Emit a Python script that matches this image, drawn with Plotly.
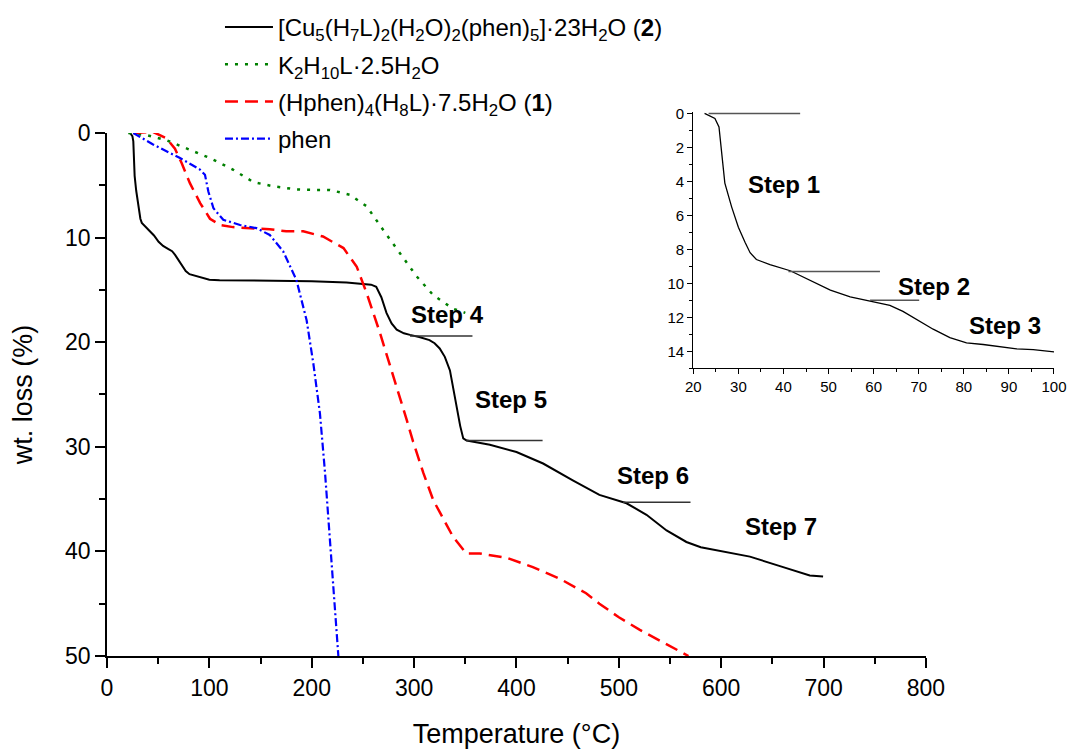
import plotly.graph_objects as go

# ---- TGA data (temperature in °C, weight loss in %) ----
# Compound 2: [Cu5(H7L)2(H2O)2(phen)5]·23H2O
temp_cu = [22.5, 24.8, 25.7, 26.3, 27.0, 28.5, 30.0, 31.5, 32.6, 34.0, 37.0, 41.5,
           45.9, 50.4, 54.8, 59.2, 63.6, 66.5, 69.5, 73.2, 76.9, 80.6, 84.3, 88.0,
           91.7, 95.4, 100.0, 110, 130, 160, 200, 234, 250, 258, 263, 268, 273, 278,
           283, 290, 296, 305, 315, 320, 325, 330, 335, 338, 341.5, 345, 348, 351.3,
           362, 374, 400, 426, 455, 481, 507.5, 515, 527, 546.6, 566, 580, 595, 628,
           660.5, 686.5, 699.5]
loss_cu = [0.0, 0.3, 0.8, 2.5, 4.1, 5.5, 6.7, 7.6, 8.2, 8.6, 8.9, 9.26,
           9.8, 10.4, 10.8, 11.05, 11.3, 11.65, 12.1, 12.7, 13.2, 13.5, 13.6, 13.75,
           13.86, 13.9, 14.03, 14.07, 14.1, 14.12, 14.17, 14.3, 14.4, 14.5, 14.7, 15.7, 17.2, 18.2,
           18.8, 19.15, 19.3, 19.5, 19.8, 20.1, 20.6, 21.4, 22.7, 24.3, 26.2, 28.0, 29.2, 29.4,
           29.6, 29.8, 30.5, 31.6, 33.2, 34.6, 35.4, 35.8, 36.5, 38.0, 39.1, 39.6, 39.9, 40.5,
           41.5, 42.3, 42.4]

# K2H10L·2.5H2O
temp_k = [20.8, 38.8, 58.3, 77.7, 100.6, 123, 143, 162.5, 185, 205, 217.8, 237, 253.6,
          270, 286, 302.4, 318.7, 338, 350]
loss_k = [0.0, 0.2, 0.7, 1.5, 2.4, 3.5, 4.7, 5.1, 5.4, 5.45, 5.45, 5.9, 7.0,
          9.3, 11.5, 13.7, 15.5, 16.8, 17.2]

# Compound 1: (Hphen)4(H8L)·7.5H2O
temp_hp = [25.7, 45, 58, 66.4, 73, 81, 91, 100.6, 110.4, 123, 140, 159, 175, 191.7,
           211, 231, 244, 253.6, 266.6, 280, 292.7, 299, 309, 318.7, 338, 351, 364,
           390, 416, 442, 468, 481, 500, 520.5, 545, 568]
loss_hp = [0.0, -0.1, 0.5, 1.5, 2.9, 4.8, 6.7, 8.2, 8.8, 9.0, 9.1, 9.2, 9.4, 9.4,
           9.9, 11.0, 12.8, 15.3, 19.1, 23.3, 27.4, 29.5, 32.5, 35.1, 38.6, 40.2, 40.2,
           40.6, 41.5, 42.6, 44.0, 45.0, 46.3, 47.5, 48.8, 50.0]

# phen
temp_ph = [25.7, 45, 71.3, 90.8, 95.7, 99, 104, 113.6, 130, 146, 159, 172, 185,
           195, 201.5, 208, 213, 219.4, 226]
loss_ph = [0.0, 1.1, 2.4, 3.5, 4.0, 5.6, 7.2, 8.3, 8.8, 9.1, 9.75, 11.3, 14.05,
           17.9, 22.0, 26.8, 32.5, 40.8, 50.0]

# Step marker lines (start T, end T, loss level) for the main plot and the inset
step_main_x0 = [296, 351, 504]
step_main_x1 = [357, 425.5, 570]
step_main_y = [19.4, 29.4, 35.3]
step_ins_x0 = [23.4, 41.1, 59.2]
step_ins_x1 = [43.7, 61.4, 70.1]
step_ins_y = [0.0, 9.3, 11.0]

# Step labels
step_main_labels = ["Step 4", "Step 5", "Step 6", "Step 7"]
step_main_lx = [332.5, 394.5, 533.2, 658.2]
step_main_ly = [17.4, 25.5, 32.7, 37.6]
step_ins_labels = ["Step 1", "Step 2", "Step 3"]
step_ins_lx = [40.2, 73.3, 89.1]
step_ins_ly = [4.2, 10.2, 12.5]

names = [
    "[Cu<sub>5</sub>(H<sub>7</sub>L)<sub>2</sub>(H<sub>2</sub>O)<sub>2</sub>(phen)<sub>5</sub>]·23H<sub>2</sub>O (<b>2</b>)",
    "K<sub>2</sub>H<sub>10</sub>L·2.5H<sub>2</sub>O",
    "(Hphen)<sub>4</sub>(H<sub>8</sub>L)·7.5H<sub>2</sub>O (<b>1</b>)",
    "phen",
]

FONT = "Arial, 'Liberation Sans', sans-serif"

fig = go.Figure()

fig.add_trace(go.Scatter(x=temp_cu, y=loss_cu, mode="lines", name=names[0],
                         legendgroup="a",
                         line=dict(color="black", width=2)))
fig.add_trace(go.Scatter(x=temp_k, y=loss_k, mode="lines", name=names[1],
                         legendgroup="b",
                         line=dict(color="#008000", width=2.5, dash="3px,7px")))
fig.add_trace(go.Scatter(x=temp_hp, y=loss_hp, mode="lines", name=names[2],
                         legendgroup="c",
                         line=dict(color="#FF0000", width=2.5, dash="13px,7px")))
fig.add_trace(go.Scatter(x=temp_ph, y=loss_ph, mode="lines", name=names[3],
                         legendgroup="d",
                         line=dict(color="#0000FF", width=2.2, dash="8px,3px,2px,3px")))

# Step marker lines, main plot
for x0, x1, yv in zip(step_main_x0, step_main_x1, step_main_y):
    fig.add_trace(go.Scatter(x=[x0, x1], y=[yv, yv], mode="lines", showlegend=False,
                             line=dict(color="#333333", width=1.5), hoverinfo="skip"))

# Inset: compound 2 at low temperature
fig.add_trace(go.Scatter(x=temp_cu, y=loss_cu, mode="lines", showlegend=False,
                         xaxis="x2", yaxis="y2",
                         line=dict(color="black", width=1.3)))
for x0, x1, yv in zip(step_ins_x0, step_ins_x1, step_ins_y):
    fig.add_trace(go.Scatter(x=[x0, x1], y=[yv, yv], mode="lines", showlegend=False,
                             xaxis="x2", yaxis="y2",
                             line=dict(color="#555555", width=1.5), hoverinfo="skip"))

annotations = []
for t, lx, ly in zip(step_main_labels, step_main_lx, step_main_ly):
    annotations.append(dict(x=lx, y=ly, xref="x", yref="y", text=f"<b>{t}</b>",
                            showarrow=False, font=dict(size=24, color="black", family=FONT)))
for t, lx, ly in zip(step_ins_labels, step_ins_lx, step_ins_ly):
    annotations.append(dict(x=lx, y=ly, xref="x2", yref="y2", text=f"<b>{t}</b>",
                            showarrow=False, font=dict(size=24, color="black", family=FONT)))

axis_common = dict(showline=True, linecolor="black", showgrid=False, zeroline=False,
                   ticks="outside", tickcolor="black", mirror=False, automargin=False)

fig.update_layout(
    width=1067, height=749,
    margin=dict(l=107, r=13, t=0, b=93),
    paper_bgcolor="white", plot_bgcolor="rgba(0,0,0,0)",
    font=dict(family=FONT, color="black"),
    xaxis=dict(domain=[0, 0.8648], range=[0, 800], dtick=100, tick0=0,
               linewidth=1.8, ticklen=10, tickwidth=1.5,
               minor=dict(dtick=50, ticks="outside", ticklen=6, tickcolor="black", tickwidth=1.5),
               tickfont=dict(size=23),
               title=dict(text="Temperature (°C)", font=dict(size=27), standoff=27),
               anchor="y", **axis_common),
    yaxis=dict(domain=[0, 0.7973], range=[50, 0], dtick=10, tick0=0,
               linewidth=1.8, ticklen=10, tickwidth=1.5,
               minor=dict(dtick=5, ticks="outside", ticklen=6, tickcolor="black", tickwidth=1.5),
               tickfont=dict(size=23),
               title=dict(text="wt. loss (%)", font=dict(size=27), standoff=24),
               anchor="x", **axis_common),
    xaxis2=dict(domain=[0.6191, 1.0], range=[20, 100], dtick=10, tick0=20,
                linewidth=1.3, ticklen=5, tickwidth=1.2,
                minor=dict(dtick=5, ticks="outside", ticklen=3, tickcolor="black", tickwidth=1.2),
                tickfont=dict(size=15), anchor="y2", **axis_common),
    yaxis2=dict(domain=[0.4386, 0.8297], range=[15, -0.1], dtick=2, tick0=0,
                linewidth=1.3, ticklen=5, tickwidth=1.2,
                minor=dict(dtick=1, ticks="outside", ticklen=3, tickcolor="black", tickwidth=1.2),
                tickfont=dict(size=15), anchor="x2", **axis_common),
    legend=dict(x=0.1193, y=0.9924, xanchor="left", yanchor="top",
                font=dict(size=24, family=FONT), bgcolor="rgba(0,0,0,0)",
                tracegroupgap=3, itemwidth=48),
    annotations=annotations,
)

fig.write_html("out.html")
